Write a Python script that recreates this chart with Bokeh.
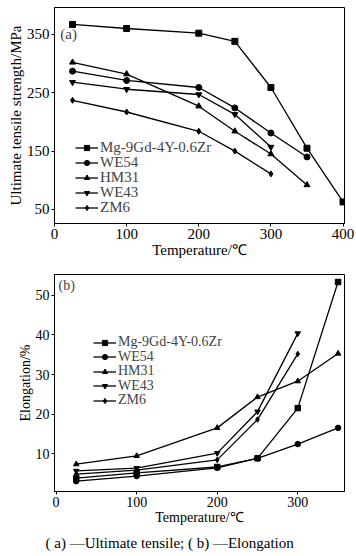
from bokeh.plotting import figure
from bokeh.layouts import column
from bokeh.models import Legend, LegendItem, Label, Title, Range1d
from bokeh.embed import file_html
from bokeh.resources import INLINE

FONT = "Liberation Serif"

names = ["Mg-9Gd-4Y-0.6Zr", "WE54", "HM31", "WE43", "ZM6"]
markers = ["square", "circle", "triangle", "inverted_triangle", "diamond"]

# (a) Ultimate tensile strength, MPa
uts_T = {
    "Mg-9Gd-4Y-0.6Zr": [25, 100, 200, 250, 300, 350, 400],
    "WE54": [25, 100, 200, 250, 300, 350],
    "HM31": [25, 100, 200, 250, 300, 350],
    "WE43": [25, 100, 200, 250, 300],
    "ZM6": [25, 100, 200, 250, 300],
}
uts_val = {
    "Mg-9Gd-4Y-0.6Zr": [367, 360, 352, 338, 259, 155, 63],
    "WE54": [287, 271, 259, 224, 181, 140],
    "HM31": [302, 282, 227, 184, 145, 92],
    "WE43": [268, 256, 247, 213, 157],
    "ZM6": [237, 217, 184, 150, 111],
}

# (b) Elongation, %
el_T = {
    "Mg-9Gd-4Y-0.6Zr": [25, 100, 200, 250, 300, 350],
    "WE54": [25, 100, 200, 250, 300, 350],
    "HM31": [25, 100, 200, 250, 300, 350],
    "WE43": [25, 100, 200, 250, 300],
    "ZM6": [25, 100, 200, 250, 300],
}
el_val = {
    "Mg-9Gd-4Y-0.6Zr": [3.8, 5.1, 6.6, 8.8, 21.5, 53.4],
    "WE54": [3.0, 4.3, 6.4, 8.8, 12.4, 16.5],
    "HM31": [7.3, 9.4, 16.5, 24.3, 28.3, 35.3],
    "WE43": [5.6, 6.3, 10.1, 20.6, 40.4],
    "ZM6": [4.8, 5.8, 8.4, 18.6, 35.2],
}

x_ticks_a = [0, 100, 200, 300, 400]
y_ticks_a = [50, 150, 250, 350]
x_ticks_b = [0, 100, 200, 300]
y_ticks_b = [10, 20, 30, 40, 50]


def style(p, fs):
    p.outline_line_color = "black"
    p.outline_line_width = 1
    p.grid.visible = False
    for ax in (p.xaxis[0], p.yaxis[0]):
        ax.axis_line_color = "black"
        ax.major_tick_line_color = "black"
        ax.minor_tick_line_color = None
        ax.major_tick_out = 3
        ax.major_tick_in = 0
        ax.major_label_text_font = FONT
        ax.major_label_text_font_size = fs
        ax.major_label_text_color = "black"
        ax.axis_label_text_font = FONT
        ax.axis_label_text_font_size = fs
        ax.axis_label_text_font_style = "normal"
        ax.axis_label_text_color = "black"
        ax.major_label_standoff = 2
        ax.axis_label_standoff = 0


def add_series(p, Tdict, Vdict, size, fs, x0, y_last, step):
    n_items = len(names)
    for i, (n, m) in enumerate(zip(names, markers)):
        l = p.line(Tdict[n], Vdict[n], line_color="black", line_width=1.3)
        s = p.scatter(Tdict[n], Vdict[n], marker=m, size=size, fill_color="black",
                      line_color="black")
        leg = Legend(items=[LegendItem(label=n, renderers=[l, s])],
                     location=(x0, y_last + step * (n_items - 1 - i)),
                     glyph_width=23, glyph_height=13, label_height=13,
                     spacing=0, padding=0, margin=0, label_standoff=2,
                     label_text_font=FONT, label_text_font_size=fs,
                     background_fill_alpha=0, border_line_color=None)
        p.add_layout(leg, "center")


# ---- top figure ----
p1 = figure(width=356, height=266, output_backend="svg", toolbar_location=None,
            x_range=Range1d(0, 402), y_range=Range1d(26, 396),
            min_border_left=53, min_border_right=12, min_border_top=7,
            min_border_bottom=43)
style(p1, "15px")
p1.xaxis.ticker = x_ticks_a
p1.yaxis.ticker = y_ticks_a
p1.xaxis.axis_label = "Temperature/℃"
p1.yaxis.axis_label = "Ultimate tensile strength/MPa"
add_series(p1, uts_T, uts_val, 6, "15px", 21, 7, 15)
p1.add_layout(Label(x=8, y=350, text="(a)", text_font=FONT, text_font_size="15px",
                    text_baseline="middle", text_align="left"))

# ---- bottom figure ----
p2 = figure(width=356, height=290, output_backend="svg", toolbar_location=None,
            x_range=Range1d(-2, 358), y_range=Range1d(0.4, 55.3),
            min_border_left=54, min_border_right=11, min_border_top=8,
            min_border_bottom=65)
style(p2, "14px")
p2.xaxis.ticker = x_ticks_b
p2.yaxis.ticker = y_ticks_b
p2.xaxis.axis_label = "Temperature/℃"
p2.yaxis.axis_label = "Elongation/%"
add_series(p2, el_T, el_val, 5.5, "14px", 39, 83, 14.5)
p2.add_layout(Label(x=3, y=52.5, text="(b)", text_font=FONT, text_font_size="14px",
                    text_baseline="middle", text_align="left"))
cap = Title(text="( a) \u2014Ultimate  tensile;  ( b) \u2014Elongation", align="left",
            offset=-9, text_font=FONT, text_font_size="15px",
            text_font_style="normal", text_color="black")
p2.add_layout(cap, "below")

layout = column(p1, p2, spacing=0)
open("out.html", "w").write(file_html(layout, INLINE))
